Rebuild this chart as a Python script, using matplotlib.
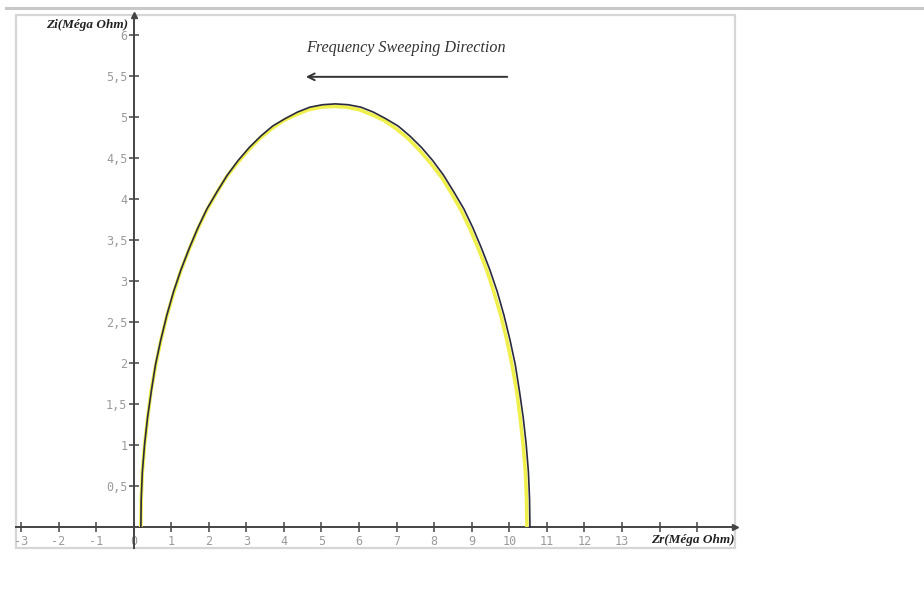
import matplotlib
matplotlib.use("Agg")
import matplotlib.pyplot as plt
from matplotlib.patches import Rectangle
from matplotlib.lines import Line2D

# ---- data ----
zr_dark = [0.19, 0.20, 0.23, 0.29, 0.37, 0.47, 0.58, 0.72, 0.88, 1.06, 1.26, 1.48, 1.71,
           1.95, 2.22, 2.49, 2.78, 3.08, 3.39, 3.70, 4.03, 4.36, 4.69, 5.03, 5.37,
           5.71, 6.05, 6.38, 6.71, 7.04, 7.35, 7.66, 7.96, 8.25, 8.52, 8.79, 9.03,
           9.26, 9.48, 9.68, 9.86, 10.02, 10.16, 10.27, 10.37, 10.45, 10.51, 10.54, 10.55]
zi_dark = [0.00, 0.34, 0.67, 1.01, 1.34, 1.66, 1.98, 2.28, 2.58, 2.87, 3.14, 3.40, 3.65,
           3.88, 4.09, 4.29, 4.47, 4.63, 4.77, 4.89, 4.98, 5.06, 5.12, 5.15, 5.16,
           5.15, 5.12, 5.06, 4.98, 4.89, 4.77, 4.63, 4.47, 4.29, 4.09, 3.88, 3.65,
           3.40, 3.14, 2.87, 2.58, 2.28, 1.98, 1.66, 1.34, 1.01, 0.67, 0.34, 0.00]
zr_yellow = [0.19, 0.20, 0.23, 0.29, 0.37, 0.46, 0.58, 0.72, 0.88, 1.06, 1.25, 1.47, 1.70,
             1.94, 2.20, 2.47, 2.76, 3.06, 3.36, 3.68, 4.00, 4.33, 4.66, 4.99, 5.33,
             5.67, 6.00, 6.33, 6.66, 6.98, 7.30, 7.60, 7.90, 8.19, 8.46, 8.72, 8.96,
             9.19, 9.41, 9.60, 9.78, 9.94, 10.08, 10.20, 10.29, 10.37, 10.43, 10.46, 10.47]
zi_yellow = [0.00, 0.34, 0.67, 1.00, 1.33, 1.65, 1.96, 2.27, 2.57, 2.85, 3.12, 3.38, 3.63,
             3.86, 4.07, 4.27, 4.44, 4.60, 4.74, 4.86, 4.96, 5.03, 5.09, 5.12, 5.13,
             5.12, 5.09, 5.03, 4.96, 4.86, 4.74, 4.60, 4.44, 4.27, 4.07, 3.86, 3.63,
             3.38, 3.12, 2.85, 2.57, 2.27, 1.96, 1.65, 1.33, 1.00, 0.67, 0.34, 0.00]

x_ticks = [-3, -2, -1, 0, 1, 2, 3, 4, 5, 6, 7, 8, 9, 10, 11, 12, 13, 14, 15]
x_tick_labels = ["-3", "-2", "-1", "0", "1", "2", "3", "4", "5", "6", "7", "8", "9",
                 "10", "11", "12", "13", "", ""]
y_ticks = [0.5, 1, 1.5, 2, 2.5, 3, 3.5, 4, 4.5, 5, 5.5, 6]
y_tick_labels = ["0,5", "1", "1,5", "2", "2,5", "3", "3,5", "4", "4,5", "5", "5,5", "6"]

x_label = "Zr(Méga Ohm)"
y_label = "Zi(Méga Ohm)"
annotation = "Frequency Sweeping Direction"

# ---- figure ----
W, H = 924, 597
fig = plt.figure(figsize=(W / 100, H / 100), dpi=100)
fig.patch.set_facecolor("white")

# top gray rule
fig.add_artist(Line2D([6 / W, 1.0], [1 - 8 / H, 1 - 8 / H], color="#c8c8c8", lw=2.2,
                      transform=fig.transFigure))

left_px, right_px, top_px, bot_px = 16, 735, 15, 548
ax = fig.add_axes([left_px / W, 1 - bot_px / H, (right_px - left_px) / W, (bot_px - top_px) / H])
ax.set_xlim(-3.134, 16.01)
ax.set_ylim(-0.256, 6.244)

# frame
ax.add_patch(Rectangle((0, 0), 1, 1, transform=ax.transAxes, fill=False,
                       edgecolor="#d6d6d6", lw=1.6, clip_on=False, zorder=0))

ax.spines["top"].set_visible(False)
ax.spines["right"].set_visible(False)
ax.spines["left"].set_position(("data", 0))
ax.spines["bottom"].set_position(("data", 0))
for s in ("left", "bottom"):
    ax.spines[s].set_color("#444444")
    ax.spines[s].set_linewidth(1.4)

ax.set_xticks(x_ticks)
ax.set_xticklabels(x_tick_labels)
ax.set_yticks(y_ticks)
ax.set_yticklabels(y_tick_labels)
ax.tick_params(axis="both", direction="inout", length=7, width=1.1, color="#444444",
               labelcolor="#9a9a9a", labelsize=8.5)
ax.tick_params(axis="x", pad=2)
ax.tick_params(axis="y", pad=1)
for lab in ax.get_xticklabels() + ax.get_yticklabels():
    lab.set_family("DejaVu Sans Mono")

# axis arrowheads
ax.plot(1, 0, marker=">", color="#444444", ms=5, transform=ax.get_yaxis_transform(), clip_on=False)
ax.plot(0, 1, marker="^", color="#444444", ms=5, transform=ax.get_xaxis_transform(), clip_on=False)

# curves
ax.plot(zr_yellow, zi_yellow, color="#f0f04c", lw=2.6, solid_capstyle="butt",
        solid_joinstyle="round", zorder=3)
ax.plot(zr_dark, zi_dark, color="#2a2a40", lw=1.2, solid_joinstyle="round", zorder=4)

# axis labels
ax.text(-0.15, 6.12, y_label, ha="right", va="center", fontsize=9.5,
        family="Liberation Serif", style="italic", weight="bold", color="#222222")
ax.text(16.0, -0.16, x_label, ha="right", va="center", fontsize=9.5,
        family="Liberation Serif", style="italic", weight="bold", color="#222222")

# sweep direction annotation
ax.text(7.24, 5.84, annotation, ha="center", va="center", fontsize=11.6,
        family="Liberation Serif", style="italic", color="#333333")
ax.annotate("", xy=(4.51, 5.49), xytext=(10.02, 5.49),
            arrowprops=dict(arrowstyle="->", color="#333333", lw=1.4,
                            mutation_scale=12))

fig.savefig("out.png", dpi=100, facecolor="white")
